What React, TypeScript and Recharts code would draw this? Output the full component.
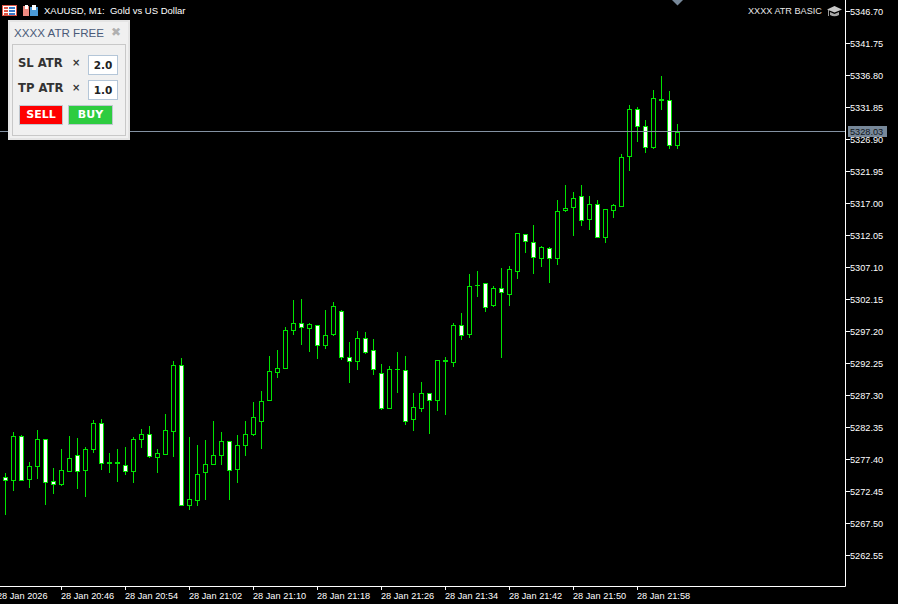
import { Bar, ComposedChart, ReferenceLine, XAxis, YAxis } from "recharts"

const opens = [
    5274.56, 5274.04, 5280.9, 5274.19, 5276.2, 5280.44, 5273.94, 5273.42, 5275.43, 5277.97,
    5275.58, 5278.83, 5282.92, 5276.88, 5276.88, 5276.42, 5275.43, 5280.38, 5281.21, 5277.59,
    5278.06, 5281.62, 5291.89, 5270.17, 5270.94, 5275.27, 5276.51, 5277.9, 5280.13, 5275.74,
    5279.45, 5281.16, 5283.17, 5286.42, 5290.75, 5291.37, 5297.24, 5298.39, 5297.55, 5298.08,
    5294.92, 5296.63, 5300.24, 5293.13, 5292.45, 5296.07, 5294.21, 5290.65, 5285.18, 5291.27,
    5291.12, 5283.48, 5285.18, 5287.56, 5286.42, 5292.71, 5292.29, 5298.08, 5296.58, 5304.27,
    5304.58, 5301.06, 5303.8, 5302.81, 5306.37, 5312.16, 5310.92, 5308.38, 5309.99, 5308.38,
    5315.81, 5316.27, 5318.03, 5314.41, 5316.8, 5311.63, 5315.81, 5316.43, 5324.07, 5331.49,
    5328.86, 5325.55, 5333.04, 5332.88, 5325.86,
]
const highs = [
    5275.23, 5281.57, 5281.11, 5276.93, 5281.88, 5280.44, 5276.0, 5278.94, 5280.95, 5280.64,
    5279.25, 5283.43, 5283.58, 5278.32, 5278.94, 5279.25, 5280.75, 5282.03, 5282.5, 5278.94,
    5284.35, 5292.55, 5293.02, 5280.8, 5279.56, 5280.33, 5283.27, 5281.57, 5280.13, 5281.11,
    5283.27, 5286.21, 5287.92, 5293.38, 5294.26, 5297.82, 5301.99, 5302.15, 5298.44, 5298.13,
    5300.45, 5301.68, 5300.45, 5295.5, 5297.2, 5297.04, 5295.96, 5292.09, 5291.78, 5293.95,
    5293.33, 5287.61, 5289.31, 5287.56, 5292.67, 5293.18, 5298.44, 5299.98, 5306.01, 5306.48,
    5304.58, 5304.16, 5306.94, 5307.25, 5312.31, 5312.16, 5313.59, 5310.35, 5310.15, 5317.46,
    5319.78, 5318.7, 5319.78, 5318.08, 5317.46, 5316.07, 5316.84, 5324.58, 5332.16, 5331.85,
    5329.84, 5334.48, 5336.64, 5334.32, 5329.22,
]
const lows = [
    5268.78, 5272.44, 5274.04, 5272.91, 5274.3, 5270.28, 5271.98, 5273.22, 5275.43, 5272.75,
    5271.52, 5278.32, 5275.69, 5275.23, 5273.84, 5274.92, 5273.68, 5279.1, 5277.55, 5275.23,
    5278.01, 5277.7, 5270.12, 5269.5, 5270.12, 5271.05, 5276.46, 5276.46, 5271.05, 5273.68,
    5277.86, 5280.95, 5278.94, 5286.37, 5289.93, 5291.32, 5296.58, 5295.03, 5293.95, 5292.87,
    5294.41, 5296.42, 5292.71, 5289.15, 5291.16, 5293.64, 5290.39, 5284.98, 5285.18, 5287.61,
    5282.66, 5281.73, 5284.67, 5281.26, 5284.82, 5284.2, 5291.63, 5295.81, 5296.11, 5302.46,
    5300.14, 5300.91, 5293.02, 5301.06, 5305.24, 5309.26, 5306.01, 5307.1, 5304.62, 5307.41,
    5315.61, 5311.89, 5313.44, 5312.82, 5311.58, 5310.81, 5314.68, 5316.43, 5321.95, 5326.43,
    5324.73, 5325.35, 5331.38, 5325.35, 5325.35,
]
const closes = [
    5274.04, 5280.9, 5274.04, 5276.26, 5280.44, 5273.73, 5273.42, 5275.65, 5277.5, 5275.43,
    5278.89, 5282.92, 5276.67, 5276.67, 5276.67, 5275.43, 5280.44, 5281.21, 5277.75, 5278.28,
    5281.83, 5291.89, 5270.17, 5271.16, 5275.03, 5276.57, 5277.97, 5280.13, 5275.58, 5279.52,
    5281.21, 5283.85, 5286.32, 5290.96, 5291.43, 5297.31, 5298.39, 5297.71, 5298.23, 5294.92,
    5296.53, 5301.02, 5293.07, 5292.45, 5296.07, 5293.84, 5291.21, 5285.18, 5291.27, 5291.27,
    5283.17, 5285.39, 5287.56, 5286.42, 5292.67, 5292.45, 5298.08, 5296.47, 5304.11, 5304.27,
    5300.8, 5303.8, 5303.12, 5306.74, 5312.31, 5311.01, 5308.54, 5310.15, 5308.38, 5315.71,
    5316.18, 5317.73, 5314.26, 5316.8, 5311.63, 5316.02, 5316.64, 5324.07, 5331.49, 5328.8,
    5325.55, 5333.19, 5332.73, 5325.86, 5328.03,
]

const priceTicks = [
    5346.7, 5341.75, 5336.8, 5331.85, 5326.9, 5321.95, 5317.0, 5312.05, 5307.1, 5302.15,
    5297.2, 5292.25, 5287.3, 5282.35, 5277.4, 5272.45, 5267.5, 5262.55,
]
const timeTicks = [-1, 7, 15, 23, 31, 39, 47, 55, 63, 71, 79]
const timeLabels = [
    "28 Jan 2026", "28 Jan 20:46", "28 Jan 20:54", "28 Jan 21:02", "28 Jan 21:10", "28 Jan 21:18",
    "28 Jan 21:26", "28 Jan 21:34", "28 Jan 21:42", "28 Jan 21:50", "28 Jan 21:58",
]
const lastPrice = 5328.03

const candles = opens.map((open, i) => ({
    i,
    open,
    high: highs[i],
    low: lows[i],
    close: closes[i],
}))

const GREEN = "#00e400"
const AXIS_FONT = "'Liberation Sans', sans-serif"
const PANEL_FONT = "'DejaVu Sans', sans-serif"

function Candle(props: any) {
    const { x, y, width, height, payload } = props
    const cx = Math.floor(x + width / 2) + 0.5
    const k = height / (payload.high - payload.low)
    const top = Math.round(y + (payload.high - Math.max(payload.open, payload.close)) * k)
    const bottom = Math.round(y + (payload.high - Math.min(payload.open, payload.close)) * k)
    const bear = payload.close < payload.open
    return (
        <g shapeRendering="crispEdges">
            <rect x={cx - 0.5} y={Math.round(y)} width={1} height={Math.max(1, Math.round(height))} fill={GREEN} />
            {bottom - top <= 1 ? (
                <rect x={cx - 2.5} y={top} width={5} height={1} fill={GREEN} />
            ) : (
                <rect x={cx - 2} y={top + 0.5} width={4} height={bottom - top - 1} fill={bear ? "#fff" : "#000"} stroke={GREEN} />
            )}
        </g>
    )
}

function PriceTick({ x, y, payload }: any) {
    const row = Math.round(y) + 0.5
    return (
        <g>
            <line x1={x} x2={x + 4} y1={row} y2={row} stroke="#fff" shapeRendering="crispEdges" />
            <text x={x + 4.5} y={row + 3} fill="#fff" fontSize={9.2} fontFamily={AXIS_FONT}>
                {payload.value.toFixed(2)}
            </text>
        </g>
    )
}

function TimeTick({ x, payload }: any) {
    const label = timeLabels[timeTicks.indexOf(payload.value)]
    const col = Math.floor(x) + 0.5
    return (
        <g>
            <line x1={col} x2={col} y1={586.5} y2={590} stroke="#fff" shapeRendering="crispEdges" />
            <text x={col - 0.5} y={599} fill="#fff" fontSize={9.2} fontFamily={AXIS_FONT}>
                {label}
            </text>
        </g>
    )
}

// price line plus its tag sitting on the scale
function LastPriceLine(props: any) {
    const row = Math.floor(props.y1) + 0.5
    const left = Math.min(props.x1, props.x2)
    const right = Math.max(props.x1, props.x2)
    return (
        <g>
            <line x1={left} x2={right} y1={row} y2={row} stroke="#8492a3" shapeRendering="crispEdges" />
            <rect x={right + 2.5} y={row - 5.5} width={39} height={11} fill="#778899" shapeRendering="crispEdges" />
            <text x={right + 4.5} y={row + 3} fill="#10141a" fontSize={9.2} fontFamily={AXIS_FONT}>
                {lastPrice.toFixed(2)}
            </text>
        </g>
    )
}

function TopDecor() {
    return (
        <svg width={898} height={30} style={{ position: "absolute", left: 0, top: 0 }}>
            {/* symbol list icon */}
            <rect x={2.5} y={5.5} width={14} height={10} fill="#fff" stroke="#e05545" />
            <rect x={4} y={7} width={4} height={2} fill="#e05545" />
            <rect x={4} y={10} width={4} height={2} fill="#e05545" />
            <rect x={4} y={13} width={4} height={2} fill="#e05545" />
            <rect x={9} y={7} width={6} height={2} fill="#3a78c8" />
            <rect x={9} y={10} width={6} height={2} fill="#3a78c8" />
            <rect x={9} y={13} width={6} height={2} fill="#3a78c8" />
            {/* chart mode icon */}
            <rect x={23} y={6} width={6} height={10} fill="#f08a80" />
            <rect x={25} y={5} width={3} height={4} fill="#fff" />
            <rect x={30} y={7} width={8} height={9} fill="#4a9ad8" />
            <rect x={32} y={5} width={4} height={5} fill="#fff" />
            <text x={44} y={14} fill="#fff" fontSize={9.5} fontFamily={AXIS_FONT} xmlSpace="preserve">
                XAUUSD, M1:  Gold vs US Dollar
            </text>
            <text x={748} y={14} fill="#e8e8e8" fontSize={9.15} fontFamily={AXIS_FONT}>
                XXXX ATR BASIC
            </text>
            {/* mortarboard */}
            <path d="M827 9.5 L834.5 6 L842 9.5 L834.5 12.5 Z" fill="#c8c8c8" />
            <path d="M830 12 L830 15 Q834.5 17.5 839 15 L839 12 L834.5 14 Z" fill="#a8a8a8" />
            <rect x={828} y={10} width={1} height={6} fill="#999" />
            {/* one-click tab */}
            <path d="M672 0 L683 0 L677.5 5.5 Z" fill="#778899" />
        </svg>
    )
}

function AtrPanel() {
    const box = { position: "absolute" as const, boxSizing: "border-box" as const }
    const label = { ...box, fontFamily: PANEL_FONT, fontWeight: 700, fontSize: 11.6, color: "#333", lineHeight: "14px", whiteSpace: "nowrap" as const }
    const cross = { ...box, left: 62, fontFamily: PANEL_FONT, fontWeight: 700, fontSize: 10, color: "#333", lineHeight: "14px" }
    const input = { ...box, left: 78, width: 30, height: 20, background: "#fff", border: "1px solid #b4c6d8", fontFamily: PANEL_FONT, fontWeight: 700, fontSize: 10.5, color: "#222", textAlign: "center" as const, lineHeight: "19px" }
    const button = { ...box, top: 83, height: 20, color: "#fff", fontFamily: PANEL_FONT, fontWeight: 700, fontSize: 11, textAlign: "center" as const, lineHeight: "18px", border: "1px solid #c0c8d0" }
    return (
        <div style={{ ...box, left: 8, top: 20, width: 122, height: 120, background: "#f0f0f0", border: "2px solid #e4e4e4" }}>
            <div style={{ ...box, left: 4, top: 4, fontFamily: AXIS_FONT, fontSize: 11.6, color: "#4a5a78", lineHeight: "14px", whiteSpace: "nowrap" }}>XXXX ATR FREE</div>
            <div style={{ ...box, left: 101, top: 2, fontFamily: PANEL_FONT, fontSize: 12, fontWeight: 700, color: "#b0b0b0", lineHeight: "16px" }}>✖</div>
            <div style={{ ...box, left: 2, top: 22, width: 114, height: 92, border: "1px solid #c8c8c8" }} />
            <div style={{ ...label, left: 8, top: 34 }}>SL ATR</div>
            <div style={{ ...cross, top: 34 }}>×</div>
            <div style={{ ...input, top: 33 }}>2.0</div>
            <div style={{ ...label, left: 8, top: 59 }}>TP ATR</div>
            <div style={{ ...cross, top: 59 }}>×</div>
            <div style={{ ...input, top: 58 }}>1.0</div>
            <div style={{ ...button, left: 9, width: 44, background: "#ff0000" }}>SELL</div>
            <div style={{ ...button, left: 58, width: 45, background: "#2ecc40" }}>BUY</div>
        </div>
    )
}

export default function App() {
    return (
        <div style={{ position: "absolute", left: 0, top: 0, width: 898, height: 604, background: "#000", overflow: "hidden" }}>
            <div style={{ position: "absolute", left: -8, top: 0 }}>
                <ComposedChart width={906} height={604} data={candles} margin={{ top: 0, right: 0, bottom: 0, left: 0 }}>
                    <XAxis
                        dataKey="i"
                        type="number"
                        scale="linear"
                        domain={[-1.6875, 105]}
                        allowDataOverflow
                        ticks={timeTicks}
                        interval={0}
                        height={17.5}
                        stroke="#fff"
                        tickLine={false}
                        tick={<TimeTick />}
                    />
                    <YAxis
                        orientation="right"
                        type="number"
                        domain={[5257.67, 5348.4]}
                        allowDataOverflow
                        ticks={priceTicks}
                        interval={0}
                        width={52.5}
                        stroke="#fff"
                        tickLine={false}
                        tickSize={0}
                        tickMargin={0}
                        tick={<PriceTick />}
                    />
                    <Bar
                        dataKey={(d: any) => [d.low, d.high]}
                        barSize={8}
                        isAnimationActive={false}
                        shape={<Candle />}
                    />
                    <ReferenceLine y={lastPrice} ifOverflow="visible" shape={<LastPriceLine />} />
                </ComposedChart>
            </div>
            <TopDecor />
            <AtrPanel />
        </div>
    )
}
